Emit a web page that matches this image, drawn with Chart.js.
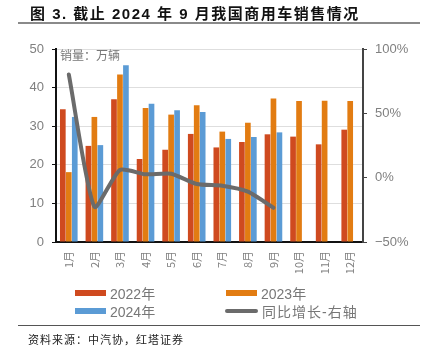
<!DOCTYPE html>
<html>
<head>
<meta charset="utf-8">
<script src="https://cdn.jsdelivr.net/npm/chart.js@4/dist/chart.umd.min.js"></script>
<style>
  html, body { margin: 0; padding: 0; background: #fff; }
  #wrap { position: relative; width: 429px; height: 350px; overflow: hidden; font-family: "Liberation Sans", "Noto Sans CJK SC", sans-serif; }
  #c { position: absolute; left: 0; top: 0; }
  .title { position: absolute; left: 30px; top: 2px; font: bold 15px "Liberation Sans", "Noto Sans CJK SC", sans-serif; letter-spacing: 1.5px; color: #111; white-space: nowrap; }
  .rule1 { position: absolute; left: 18px; top: 22px; width: 402px; height: 2px; background: #8a8a8a; }
  .rule2 { position: absolute; left: 18px; top: 325px; width: 402px; height: 1px; background: #555; }
  .src { position: absolute; left: 28px; top: 331px; font: 11px "Noto Sans CJK SC", sans-serif; letter-spacing: 1px; color: #222; white-space: nowrap; }
  .lg { position: absolute; font: 14px "Liberation Sans", "Noto Sans CJK SC", sans-serif; color: #777; white-space: nowrap; display: flex; align-items: center; }
  .sw { display: inline-block; width: 31px; height: 6px; margin-right: 4px; }
  .swl { display: inline-block; width: 33px; height: 4px; border-radius: 2px; margin-right: 4px; }
</style>
</head>
<body>
<div id="wrap">
  <canvas id="c" width="429" height="350"></canvas>
  <div class="title">图 3. 截止 2024 年 9 月我国商用车销售情况</div>
  <div class="rule1"></div>
  <div id="legend"></div>
  <div class="rule2"></div>
  <div class="src">资料来源：中汽协，红塔证券</div>
</div>
<script>
const months = ['1月', '2月', '3月', '4月', '5月', '6月', '7月', '8月', '9月', '10月', '11月', '12月'];
const sales2022 = [34.4, 24.9, 37.0, 21.5, 23.9, 28.0, 24.5, 25.9, 27.9, 27.3, 25.3, 29.1];
const sales2023 = [18.1, 32.4, 43.4, 34.7, 33.0, 35.4, 28.6, 30.9, 37.2, 36.5, 36.6, 36.5];
const sales2024 = [32.4, 25.1, 45.8, 35.8, 34.1, 33.7, 26.7, 27.2, 28.4, null, null, null];
const yoyGrowth = [80.2, -22.7, 6.0, 2.6, 3.1, -4.9, -6.3, -10.9, -23.4, null, null, null];
const leftTicks = [0, 10, 20, 30, 40, 50];
const rightTicks = [-50, 0, 50, 100];

const colors = { y2022: '#cf4a1f', y2023: '#e27c12', y2024: '#5b9bd5', line: '#6b6b6b' };

const legendItems = [
  { label: '2022年', color: colors.y2022, type: 'bar', left: 75, top: 283 },
  { label: '2023年', color: colors.y2023, type: 'bar', left: 226, top: 283 },
  { label: '2024年', color: colors.y2024, type: 'bar', left: 75, top: 301 },
  { label: '同比增长-右轴', color: colors.line, type: 'line', left: 225, top: 301 }
];
const legendEl = document.getElementById('legend');
legendItems.forEach(it => {
  const d = document.createElement('div');
  d.className = 'lg';
  d.style.left = it.left + 'px';
  d.style.top = it.top + 'px';
  const s = document.createElement('span');
  s.className = it.type === 'bar' ? 'sw' : 'swl';
  s.style.background = it.color;
  d.appendChild(s);
  const t = document.createElement('span');
  t.textContent = it.label;
  if (it.type === 'line') t.style.letterSpacing = '1px';
  d.appendChild(t);
  legendEl.appendChild(d);
});

const unitLabel = {
  id: 'unitLabel',
  afterDraw(chart) {
    const { ctx, chartArea } = chart;
    ctx.save();
    ctx.font = '12px "Noto Sans CJK SC", sans-serif';
    ctx.fillStyle = '#777';
    ctx.textBaseline = 'top';
    ctx.fillText('销量：万辆', chartArea.left + 4, chartArea.top + 0);
    ctx.restore();
  }
};

const tickFont = { family: '"Liberation Sans", sans-serif', size: 13 };

new Chart(document.getElementById('c'), {
  data: {
    labels: months,
    datasets: [
      { type: 'line', label: '同比增长-右轴', data: yoyGrowth, yAxisID: 'y1', borderColor: colors.line, borderWidth: 4, pointRadius: 0, tension: 0.2, borderCapStyle: 'round', borderJoinStyle: 'round', order: 0 },
      { type: 'bar', label: '2022年', data: sales2022, backgroundColor: colors.y2022, yAxisID: 'y', order: 1 },
      { type: 'bar', label: '2023年', data: sales2023, backgroundColor: colors.y2023, yAxisID: 'y', order: 1 },
      { type: 'bar', label: '2024年', data: sales2024, backgroundColor: colors.y2024, yAxisID: 'y', order: 1 }
    ]
  },
  options: {
    responsive: false,
    animation: false,
    layout: { padding: { top: 49, left: 0, right: 0, bottom: 0 } },
    datasets: { bar: { barPercentage: 0.95, categoryPercentage: 0.7 } },
    plugins: { legend: { display: false }, tooltip: { enabled: false } },
    scales: {
      x: {
        grid: { drawOnChartArea: false, drawTicks: false },
        border: { color: '#111', width: 2 },
        ticks: { autoSkip: false, minRotation: 90, maxRotation: 90, padding: 9, color: '#808080', font: { family: '"Noto Sans CJK SC", sans-serif', size: 11 } },
        afterFit(s) { s.height = 108; }
      },
      y: {
        position: 'left',
        min: 0, max: 50,
        afterBuildTicks(s) { s.ticks = leftTicks.map(v => ({ value: v })); },
        grid: { color: '#dedede', lineWidth: 1, tickLength: 4, tickColor: '#111' },
        border: { color: '#111', width: 2 },
        ticks: { color: '#808080', font: tickFont, padding: 8 },
        afterFit(s) { s.width = 56; }
      },
      y1: {
        position: 'right',
        min: -50, max: 100,
        afterBuildTicks(s) { s.ticks = rightTicks.map(v => ({ value: v })); },
        grid: { drawOnChartArea: false, tickLength: 4, tickColor: '#444' },
        border: { color: '#444', width: 2 },
        ticks: { color: '#808080', font: tickFont, padding: 8, callback: v => (v < 0 ? '\u2212' + Math.abs(v) : v) + '%' },
        afterFit(s) { s.width = 66; }
      }
    }
  },
  plugins: [unitLabel]
});
</script>
</body>
</html>
